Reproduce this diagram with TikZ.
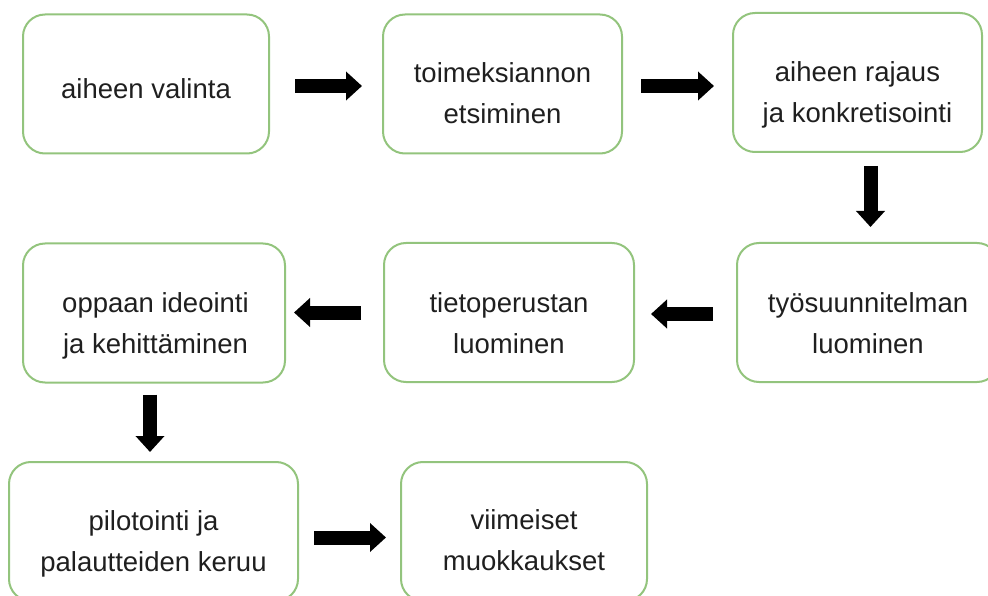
\documentclass[tikz,border=0pt]{standalone}
\usepackage{fontspec}
\setmainfont{Liberation Sans}
\usetikzlibrary{arrows.meta}
\definecolor{boxgreen}{RGB}{147,196,125}
\begin{document}
\begin{tikzpicture}[x=1pt,y=-1pt,
  box/.style={draw=boxgreen, line width=2pt, rounded corners=22pt, inner sep=0pt, minimum height=139pt},
  txt/.style={font=\fontsize{27.5}{41.5}\selectfont, align=center, text=black!88, inner sep=0pt},
  blk/.style={line width=14pt, draw=black, -{Triangle[length=16pt,width=28pt]}}]
\useasboundingbox (0,0) rectangle (988,596);
\clip (0,0) rectangle (988,596);
% boxes
\node[box, minimum width=246pt] (b1) at (146,84) {};
\node[box, minimum width=239pt] (b2) at (502.5,84) {};
\node[box, minimum width=249pt] (b3) at (857.5,82.5) {};
\node[box, minimum width=262pt] (b4) at (154,313) {};
\node[box, minimum width=250pt] (b5) at (509,312.5) {};
\node[box, minimum width=262pt] (b6) at (868,312.5) {};
\node[box, minimum width=289pt] (b7) at (153.5,531.5) {};
\node[box, minimum width=246pt] (b8) at (524,531.5) {};
% texts
\node[txt] (t1) at (146,90.7) {\strut aiheen valinta};
\node[txt] (t2) at (502.5,94.5) {\strut toimeksiannon\\\strut etsiminen};
\node[txt] (t3) at (857.5,93.5) {\strut aiheen rajaus\\\strut ja konkretisointi};
\node[txt] (t4) at (155.5,324.5) {\strut oppaan ideointi\\\strut ja kehittäminen};
\node[txt] (t5) at (509,324.5) {\strut tietoperustan\\\strut luominen};
\node[txt] (t6) at (868,324.5) {\strut työsuunnitelman\\\strut luominen};
\node[txt] (t7) at (153.5,542.5) {\strut pilotointi ja\\\strut palautteiden keruu};
\node[txt] (t8) at (524,541.5) {\strut viimeiset\\\strut muokkaukset};
% arrows
\draw[blk, shorten <=25pt, shorten >=20pt] ([yshift=-2pt]b1.east) -- ([yshift=-2pt]b2.west);
\draw[blk, shorten <=18pt, shorten >=18pt] ([yshift=-2pt]b2.east) -- ([yshift=-2pt]b2.east -| b3.west);
\draw[blk, shorten <=13pt, shorten >=15pt] ([xshift=13pt]b3.south) -- ([xshift=13pt]b3.south |- b6.north);
\draw[blk, shorten <=23pt, shorten >=16pt] ([yshift=-1.5pt]b6.west) -- ([yshift=-1.5pt]b6.west -| b5.east);
\draw[blk, shorten <=22pt, shorten >=8pt] (b5.west) -- (b5.west -| b4.east);
\draw[blk, shorten <=11pt, shorten >=9pt] ([xshift=-4pt]b4.south) -- ([xshift=-4pt]b4.south |- b7.north);
\draw[blk, shorten <=15pt, shorten >=14pt] ([yshift=-6pt]b7.east) -- ([yshift=-6pt]b7.east -| b8.west);
\end{tikzpicture}
\end{document}
